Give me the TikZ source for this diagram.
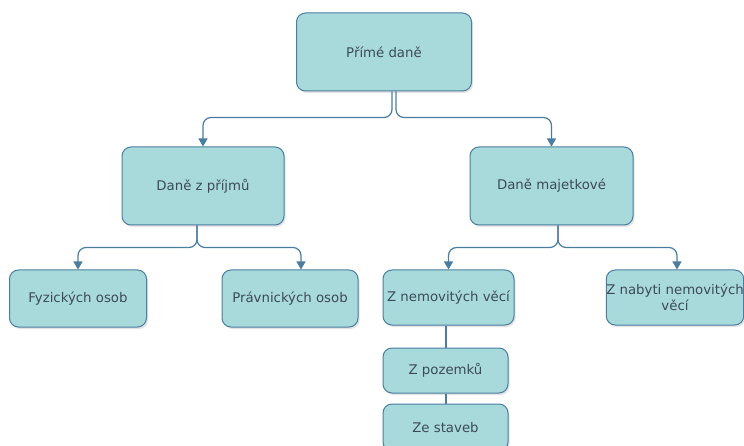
\documentclass[tikz,border=0pt]{standalone}
\usepackage{fontspec}
\setmainfont{DejaVu Sans}
\usetikzlibrary{arrows.meta,shadows}
\definecolor{boxfill}{HTML}{A8DADC}
\definecolor{boxline}{HTML}{4A7EA0}
\definecolor{boxtext}{HTML}{3C4A5A}
\begin{document}
\begin{tikzpicture}[x=1pt,y=-1pt,
    box/.style={draw=boxline,fill=boxfill,rounded corners=9pt,line width=1pt,
      text=boxtext,align=center,inner sep=0pt,
      font=\fontsize{13.3}{16}\selectfont,
      drop shadow={opacity=0.22,shadow xshift=1.5pt,shadow yshift=-2pt}},
    conn/.style={draw=boxline,line width=1.2pt,rounded corners=8pt},
    arr/.style={conn,-{Triangle[width=9pt,length=8pt]}}]
\fill[white] (0,0) rectangle (744,446);
\useasboundingbox (0,0) rectangle (744,446);
      \node [box,minimum width=175pt,minimum height=78pt] at (384,52) (pd) {Přímé daně};
       \node [box,minimum width=162pt,minimum height=78pt] at (203,186) (dp) {Daně z příjmů};
        \node [box,minimum width=163pt,minimum height=78pt] at (551.5,186) (dm) {Daně majetkové};
         \node [box,minimum width=137pt,minimum height=57pt] at (78,298.5) (fo) {Fyzických osob};
          \node [box,minimum width=136pt,minimum height=57pt] at (290,298.5) (po) {Právnických osob};
           \node [box,minimum width=131pt,minimum height=55pt] at (448.5,297.5) (znv) {Z nemovitých věcí};
            \node [box,minimum width=133pt,minimum height=55pt] at (675,297.5) (znab) {Z nabyti nemovitých\\věcí};
             \node [box,minimum width=125pt,minimum height=45pt] at (445.5,370.5) (zpoz) {Z pozemků};
              \node [box,minimum width=125pt,minimum height=47pt] at (445.5,427.5) (zst) {Ze staveb};
%
%
\draw[arr] ([xshift=8pt]pd.south) -- ([xshift=8pt,yshift=-26pt]pd.south) -| (dp.north);
\draw[arr] ([xshift=12pt]pd.south) -- ([xshift=12pt,yshift=-26pt]pd.south) -| (dm.north);
\draw[arr] ([xshift=-6pt]dp.south) -- ([xshift=-6pt,yshift=-22pt]dp.south) -| (fo.north);
\draw[arr] ([xshift=-6pt]dp.south) -- ([xshift=-6pt,yshift=-22pt]dp.south) -| ([xshift=11pt]po.north);
\draw[arr] ([xshift=6.5pt]dm.south) -- ([xshift=6.5pt,yshift=-22pt]dm.south) -| (znv.north);
\draw[arr] ([xshift=6.5pt]dm.south) -- ([xshift=6.5pt,yshift=-22pt]dm.south) -| ([xshift=2pt]znab.north);
\draw[conn,line width=1.5pt] ([xshift=0.5pt]znv.south -| zpoz.north) -- ([xshift=0.5pt]zpoz.north);
\draw[conn,line width=1.5pt] ([xshift=0.5pt]zpoz.south) -- ([xshift=0.5pt]zst.north);

\end{tikzpicture}
\end{document}
